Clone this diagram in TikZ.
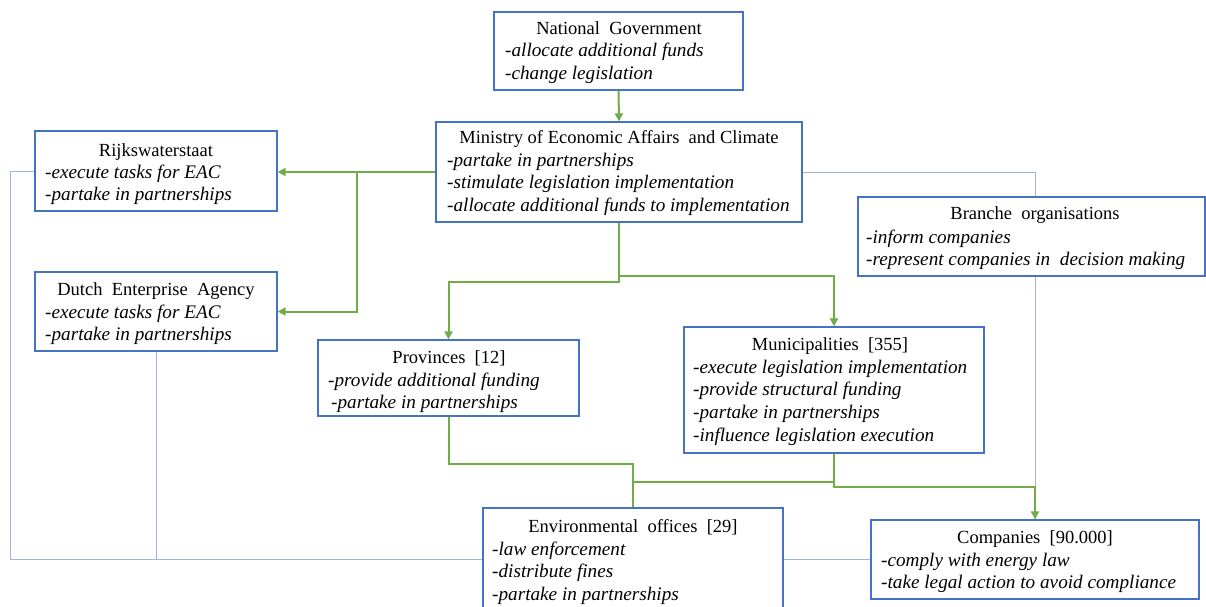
\documentclass[tikz,border=0pt]{standalone}
\usepackage{fontspec}
\setmainfont{Liberation Serif}
\usetikzlibrary{arrows.meta}
\definecolor{boxblue}{HTML}{4472C4}
\definecolor{lnblue}{HTML}{9DB5E0}
\definecolor{grn}{HTML}{70AD47}
\tikzset{
 orgbox/.style={draw=boxblue, line width=1.3pt, fill=white, inner sep=0pt},
 ttl/.style={font=\fontsize{18.5}{22.7}\selectfont, inner sep=0pt, anchor=base},
 lst/.style={font=\fontsize{19.2}{22.7}\selectfont\itshape, inner sep=0pt, anchor=base west, align=left},
 gline/.style={draw=grn, line width=2pt},
 garrow/.style={gline, -{Triangle[length=8pt,width=8pt]}},
 bline/.style={draw=lnblue, line width=1pt},
}
\begin{document}
\begin{tikzpicture}[x=1pt,y=-1pt]
\useasboundingbox (0,0) rectangle (1206,607);
\clip (0,0) rectangle (1206,607);
% boxes
\node[orgbox, minimum width=249pt, minimum height=78pt] (ng) at (618.5,51) {};
\node[orgbox, minimum width=366pt, minimum height=100pt] (min) at (619,172) {};
\node[orgbox, minimum width=242pt, minimum height=80pt] (rijks) at (156,171) {};
\node[orgbox, minimum width=242pt, minimum height=79pt] (dutch) at (156,311.5) {};
\node[orgbox, minimum width=347pt, minimum height=79pt] (bra) at (1031.5,236.5) {};
\node[orgbox, minimum width=261pt, minimum height=76pt] (prov) at (448.5,378) {};
\node[orgbox, minimum width=300pt, minimum height=126pt] (mun) at (834,390) {};
\node[orgbox, minimum width=300pt, minimum height=112pt] (env) at (633,564) {};
\node[orgbox, minimum width=328pt, minimum height=79pt] (comp) at (1035,559.5) {};
% texts (list nodes anchored at the baseline of their last line)
\node[ttl] (ng-t) at (619,35) {National\ \ Government};
\node[lst] (ng-l) at (505,79.7) {-allocate additional funds\\-change legislation};
\node[ttl] (min-t) at (619,143) {Ministry\ of\ Economic\ Affairs\ \ and\ Climate};
\node[lst] (min-l) at (447,211.4) {-partake in partnerships\\-stimulate legislation implementation\\-allocate additional funds to implementation};
\node[ttl] (rijks-t) at (156,156) {Rijkswaterstaat};
\node[lst] (rijks-l) at (45,200.7) {-execute tasks for EAC\\-partake in partnerships};
\node[ttl] (dutch-t) at (156,295) {Dutch\ \ Enterprise\ \ Agency};
\node[lst] (dutch-l) at (45,340.7) {-execute tasks for EAC\\-partake in partnerships};
\node[ttl] (bra-t) at (1035,219) {Branche\ \ organisations};
\node[lst] (bra-l) at (866,265.7) {-inform companies\\-represent companies in\ \ decision making};
\node[ttl] (prov-t) at (449,363) {Provinces\ \ [12]};
\node[lst] (prov-l) at (328,408.7) {-provide additional funding\\\hspace*{3pt}-partake in partnerships};
\node[ttl] (mun-t) at (830,350) {Municipalities\ \ [355]};
\node[lst] (mun-l) at (693,441.1) {-execute legislation implementation\\-provide structural funding\\-partake in partnerships\\-influence legislation execution};
\node[ttl] (env-t) at (633,532) {Environmental\ \ offices\ \ [29]};
\node[lst] (env-l) at (492,600.4) {-law enforcement\\-distribute fines\\-partake in partnerships};
\node[ttl] (comp-t) at (1035,543) {Companies\ \ [90.000]};
\node[lst] (comp-l) at (881,588.7) {-comply with energy law\\-take legal action to avoid compliance};
% thin blue connectors
\draw[bline] (min.east) -| (comp.north |- bra.north);
\draw[bline] (comp.north |- bra.south) -- (comp.north);
\draw[bline] (rijks.west) -- ++(-24,0) |- (env.west |- comp.west);
\draw[bline] (dutch.south) -- (dutch.south |- comp.west);
\draw[bline] (env.east |- comp.west) -- (comp.west);
% green connectors
\coordinate (j1) at (357,172);
\draw[garrow] (ng.south) -- (min.north);
\draw[garrow] (min.west) -- (min.west -| rijks.east);
\draw[garrow] (j1) |- (dutch.east);
\draw[garrow] (min.south) -- ++(0,59) -| (prov.north);
\draw[garrow] (min.south) ++(0,53) -| (mun.north);
\draw[gline] (prov.south) -- ++(0,47) -| (env.north);
\draw[gline] (mun.south) -- ++(0,28) -| (env.north);
\draw[garrow] (mun.south) -- ++(0,33) -| (comp.north);
\end{tikzpicture}
\end{document}
